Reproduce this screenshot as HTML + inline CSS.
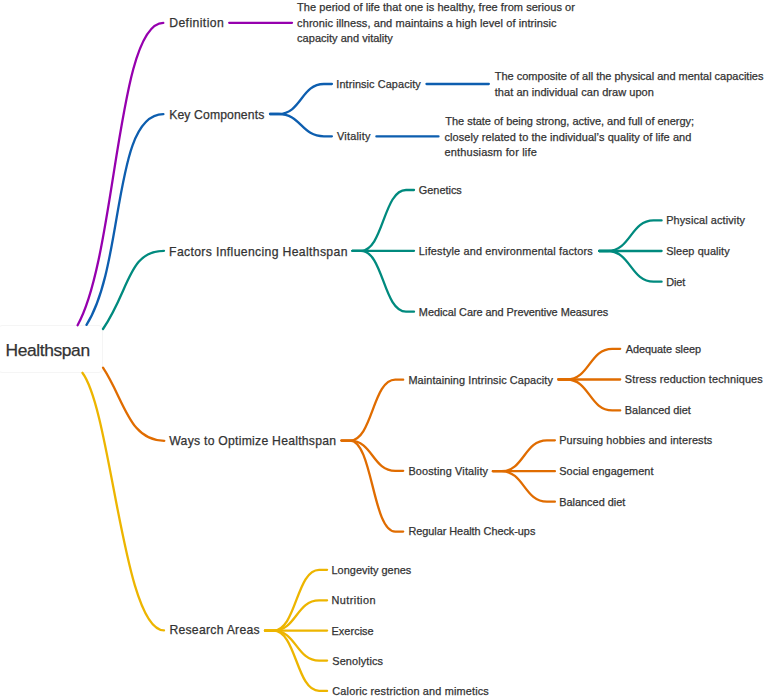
<!DOCTYPE html>
<html><head><meta charset="utf-8"><style>
html,body{margin:0;padding:0;background:#fff;width:767px;height:699px;overflow:hidden}
body{position:relative}
svg{position:absolute;left:0;top:0}
path{fill:none;stroke-width:2.3;stroke-linecap:round}
.t{position:absolute;white-space:nowrap;font-family:"Liberation Sans",sans-serif;color:#333333;line-height:1;-webkit-text-stroke:0.25px #333333}
.root{position:absolute;left:-2px;top:325px;width:105px;height:48px;background:#fff;border:1px solid #f5f5f5;border-radius:4px;box-sizing:border-box}
</style></head><body>
<div class="root"></div>
<svg width="767" height="699" viewBox="0 0 767 699">
<path d="M77.6 325.2C116.6 255.1 117.0 22.9 163.3 22.9" stroke="#9600AE"/>
<path d="M86.5 324.8C125.0 264.1 112.3 114.2 163.4 114.2" stroke="#0D5EAF"/>
<path d="M103.0 329.0C129.8 289.6 128.4 250.8 164.0 250.8" stroke="#008A7E"/>
<path d="M103.0 367.7C124.7 400.6 129.0 440.8 164.3 440.8" stroke="#E06C00"/>
<path d="M82.4 372.8C111.7 412.1 123.2 630.4 164.0 630.4" stroke="#EDB500"/>
<path d="M229.2 22.8L292.0 22.8" stroke="#9600AE"/>
<path d="M270.0 114.0H278.5C301.2 114.0 301.2 84.0 323.9 84.0H331.9" stroke="#0D5EAF"/>
<path d="M270.0 114.0H278.5C301.2 114.0 301.2 136.3 323.9 136.3H331.9" stroke="#0D5EAF"/>
<path d="M426.5 84.0L488.8 84.0" stroke="#0D5EAF"/>
<path d="M376.4 136.4L438.5 136.4" stroke="#0D5EAF"/>
<path d="M352.4 250.8H360.9C383.4 250.8 383.4 190.0 406.0 190.0H414.0" stroke="#008A7E"/>
<path d="M352.4 250.8H360.9C383.4 250.8 383.4 250.8 406.0 250.8H414.0" stroke="#008A7E"/>
<path d="M352.4 250.8H360.9C383.4 250.8 383.4 311.7 406.0 311.7H414.0" stroke="#008A7E"/>
<path d="M599.2 251.0H607.7C630.7 251.0 630.7 220.4 653.6 220.4H661.6" stroke="#008A7E"/>
<path d="M599.2 251.0H607.7C630.7 251.0 630.7 251.0 653.6 251.0H661.6" stroke="#008A7E"/>
<path d="M599.2 251.0H607.7C630.7 251.0 630.7 281.7 653.6 281.7H661.6" stroke="#008A7E"/>
<path d="M341.5 440.6H350.0C372.6 440.6 372.6 379.7 395.2 379.7H403.2" stroke="#E06C00"/>
<path d="M341.5 440.6H350.0C372.6 440.6 372.6 470.8 395.2 470.8H403.2" stroke="#E06C00"/>
<path d="M341.5 440.6H350.0C372.6 440.6 372.6 531.6 395.2 531.6H403.2" stroke="#E06C00"/>
<path d="M558.4 379.5H566.9C589.5 379.5 589.5 348.8 612.2 348.8H620.2" stroke="#E06C00"/>
<path d="M558.4 379.5H566.9C589.5 379.5 589.5 379.5 612.2 379.5H620.2" stroke="#E06C00"/>
<path d="M558.4 379.5H566.9C589.5 379.5 589.5 410.4 612.2 410.4H620.2" stroke="#E06C00"/>
<path d="M492.9 471.2H501.4C524.1 471.2 524.1 440.3 546.9 440.3H554.9" stroke="#E06C00"/>
<path d="M492.9 471.2H501.4C524.1 471.2 524.1 471.2 546.9 471.2H554.9" stroke="#E06C00"/>
<path d="M492.9 471.2H501.4C524.1 471.2 524.1 501.7 546.9 501.7H554.9" stroke="#E06C00"/>
<path d="M265.0 630.6H273.5C296.3 630.6 296.3 569.8 319.1 569.8H327.1" stroke="#EDB500"/>
<path d="M265.0 630.6H273.5C296.3 630.6 296.3 600.3 319.1 600.3H327.1" stroke="#EDB500"/>
<path d="M265.0 630.6H273.5C296.3 630.6 296.3 630.6 319.1 630.6H327.1" stroke="#EDB500"/>
<path d="M265.0 630.6H273.5C296.3 630.6 296.3 660.6 319.1 660.6H327.1" stroke="#EDB500"/>
<path d="M265.0 630.6H273.5C296.3 630.6 296.3 690.9 319.1 690.9H327.1" stroke="#EDB500"/>
</svg>
<div class="t" id="t0" style="left:5.52px;top:341.77px;font-size:17.40px;letter-spacing:-0.382px">Healthspan</div>
<div class="t" id="t1" style="left:169.20px;top:17.27px;font-size:12.20px;letter-spacing:0.418px">Definition</div>
<div class="t" id="t2" style="left:297.10px;top:2.29px;font-size:11.00px;letter-spacing:0.048px">The period of life that one is healthy, free from serious or</div>
<div class="t" id="t3" style="left:297.10px;top:17.69px;font-size:11.00px;letter-spacing:0.083px">chronic illness, and maintains a high level of intrinsic</div>
<div class="t" id="t4" style="left:297.10px;top:32.99px;font-size:11.00px;letter-spacing:0.020px">capacity and vitality</div>
<div class="t" id="t5" style="left:169.20px;top:108.87px;font-size:12.20px;letter-spacing:0.123px">Key Components</div>
<div class="t" id="t6" style="left:336.30px;top:78.77px;font-size:10.90px;letter-spacing:0.090px">Intrinsic Capacity</div>
<div class="t" id="t7" style="left:494.78px;top:71.19px;font-size:11.00px;letter-spacing:-0.006px">The composite of all the physical and mental capacities</div>
<div class="t" id="t8" style="left:494.78px;top:86.59px;font-size:11.00px;letter-spacing:0.042px">that an individual can draw upon</div>
<div class="t" id="t9" style="left:337.10px;top:131.37px;font-size:10.90px;letter-spacing:0.195px">Vitality</div>
<div class="t" id="t10" style="left:445.34px;top:116.29px;font-size:11.00px;letter-spacing:-0.026px">The state of being strong, active, and full of energy;</div>
<div class="t" id="t11" style="left:444.54px;top:131.69px;font-size:11.00px;letter-spacing:0.069px">closely related to the individual’s quality of life and</div>
<div class="t" id="t12" style="left:444.54px;top:146.99px;font-size:11.00px;letter-spacing:0.165px">enthusiasm for life</div>
<div class="t" id="t13" style="left:169.08px;top:245.57px;font-size:12.20px;letter-spacing:0.356px">Factors Influencing Healthspan</div>
<div class="t" id="t14" style="left:418.86px;top:184.87px;font-size:10.90px;letter-spacing:-0.011px">Genetics</div>
<div class="t" id="t15" style="left:418.86px;top:245.67px;font-size:10.90px;letter-spacing:0.165px">Lifestyle and environmental factors</div>
<div class="t" id="t16" style="left:418.86px;top:306.57px;font-size:10.90px;letter-spacing:-0.039px">Medical Care and Preventive Measures</div>
<div class="t" id="t17" style="left:666.20px;top:215.37px;font-size:10.90px;letter-spacing:0.120px">Physical activity</div>
<div class="t" id="t18" style="left:666.20px;top:245.77px;font-size:10.90px;letter-spacing:0.094px">Sleep quality</div>
<div class="t" id="t19" style="left:666.20px;top:276.67px;font-size:10.90px;letter-spacing:-0.107px">Diet</div>
<div class="t" id="t20" style="left:169.32px;top:434.97px;font-size:12.20px;letter-spacing:0.256px">Ways to Optimize Healthspan</div>
<div class="t" id="t21" style="left:408.42px;top:374.57px;font-size:10.90px;letter-spacing:0.097px">Maintaining Intrinsic Capacity</div>
<div class="t" id="t22" style="left:408.42px;top:465.67px;font-size:10.90px;letter-spacing:0.145px">Boosting Vitality</div>
<div class="t" id="t23" style="left:408.42px;top:526.47px;font-size:10.90px;letter-spacing:-0.035px">Regular Health Check-ups</div>
<div class="t" id="t24" style="left:625.66px;top:343.67px;font-size:10.90px;letter-spacing:-0.019px">Adequate sleep</div>
<div class="t" id="t25" style="left:624.86px;top:374.37px;font-size:10.90px;letter-spacing:0.133px">Stress reduction techniques</div>
<div class="t" id="t26" style="left:624.86px;top:405.27px;font-size:10.90px">Balanced diet</div>
<div class="t" id="t27" style="left:559.20px;top:435.17px;font-size:10.90px;letter-spacing:0.122px">Pursuing hobbies and interests</div>
<div class="t" id="t28" style="left:559.20px;top:466.07px;font-size:10.90px;letter-spacing:0.065px">Social engagement</div>
<div class="t" id="t29" style="left:559.20px;top:496.57px;font-size:10.90px;letter-spacing:0.014px">Balanced diet</div>
<div class="t" id="t30" style="left:169.42px;top:624.37px;font-size:12.20px;letter-spacing:0.265px">Research Areas</div>
<div class="t" id="t31" style="left:331.52px;top:565.07px;font-size:10.90px;letter-spacing:0.034px">Longevity genes</div>
<div class="t" id="t32" style="left:331.52px;top:595.07px;font-size:10.90px;letter-spacing:0.430px">Nutrition</div>
<div class="t" id="t33" style="left:331.52px;top:625.57px;font-size:10.90px;letter-spacing:0.057px">Exercise</div>
<div class="t" id="t34" style="left:332.32px;top:655.67px;font-size:10.90px;letter-spacing:0.107px">Senolytics</div>
<div class="t" id="t35" style="left:332.32px;top:685.87px;font-size:10.90px;letter-spacing:0.168px">Caloric restriction and mimetics</div>
</body></html>
